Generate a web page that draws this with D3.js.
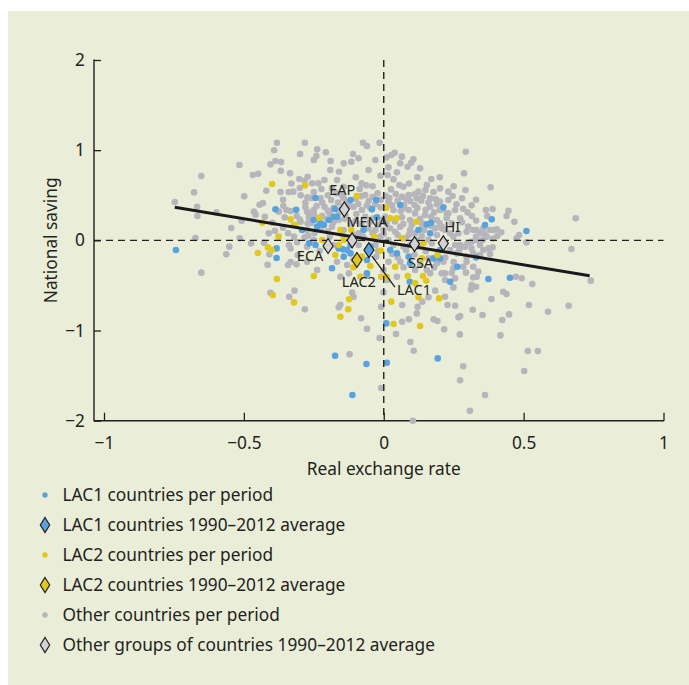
<!DOCTYPE html>
<html>
<head>
<meta charset="utf-8">
<script src="https://cdn.jsdelivr.net/npm/d3@7"></script>
<style>
  body { margin: 0; background: #ffffff; }
  svg { display: block; }
  text { font-family: "Noto Sans", "Open Sans", sans-serif; fill: #231f20; }
</style>
</head>
<body>
<svg id="chart" width="689" height="685"></svg>
<script>
// Axis ticks and titles
const xTickValues = [-1, -0.5, 0, 0.5, 1];
const yTickValues = [-2, -1, 0, 1, 2];
const xTitle = "Real exchange rate";
const yTitle = "National saving";

// LAC1 countries, one point per country and period [real exchange rate, national saving]
const lac1Points = [
  [-0.387,0.344],[-0.313,0.340],[-0.292,0.115],[-0.267,-0.033],[-0.743,-0.107],[-0.383,-0.089],[-0.383,-0.196],
  [-0.119,0.447],[-0.027,0.447],[-0.244,0.469],[-0.175,0.347],[-0.167,0.262],[-0.214,0.170],[-0.238,0.152],
  [-0.042,0.344],[-0.024,0.255],[0.059,0.392],[0.154,0.177],[0.169,0.196],[0.166,0.078],[0.213,0.366],
  [-0.072,0.115],[-0.244,-0.052],[-0.205,-0.070],[-0.146,-0.100],[-0.131,-0.107],[-0.119,-0.144],[-0.143,-0.181],
  [-0.185,-0.310],[-0.060,-0.218],[0.023,-0.107],[0.047,-0.144],[0.089,-0.181],[0.094,-0.255],[0.178,-0.200],
  [0.201,-0.107],[-0.196,0.225],[-0.226,0.188],[-0.179,0.262],[-0.250,0.225],[-0.161,-0.089],[-0.119,-0.052],
  [-0.048,-0.070],[0.124,0.115],
  [0.386,0.233],[0.362,0.170],[0.510,0.103],[0.201,-0.200],[0.330,-0.189],[0.263,-0.292],[0.374,-0.429],[0.451,-0.414],
  [0.237,-0.459],
  [0.009,-0.921],[-0.174,-1.279],[-0.062,-1.371],[0.011,-1.357],[-0.112,-1.715],[0.193,-1.309],[-0.060,-0.366],[0.093,-0.459]
];

// LAC2 countries, one point per country and period
const lac2Points = [
  [-0.399,0.625],[-0.281,0.610],[-0.333,0.233],[-0.434,0.196],[-0.316,0.170],[-0.376,0.041],[-0.414,-0.078],
  [-0.401,-0.107],[-0.450,-0.140],[-0.382,-0.429],[-0.397,-0.606],[-0.321,-0.688],
  [-0.096,0.491],[-0.231,0.251],[-0.155,0.115],[-0.116,0.115],[0.009,0.362],[0.023,0.244],[0.046,0.244],
  [0.116,0.207],[0.142,-0.033],[0.065,0.022],[-0.034,0.041],[-0.143,0.004],[-0.161,-0.052],[-0.173,-0.163],
  [-0.108,-0.299],[-0.078,-0.181],[-0.048,-0.285],[-0.010,-0.115],[0.136,-0.200],[0.192,-0.163],[0.140,-0.395],
  [0.086,-0.395],[0.041,-0.292],[0.011,-0.403],[-0.009,-0.403],[-0.250,-0.395],[-0.084,-0.403],[-0.220,0.004],
  [-0.124,-0.654],[-0.127,-0.765],[-0.155,-0.847],[0.027,-0.680],[0.035,-0.928],[0.130,-0.950],[0.124,-0.632],
  [0.198,-0.644],[0.152,-0.448],[0.112,-0.477]
];

// All other countries, one point per country and period
const otherPoints = [
  [-0.382,1.083],[-0.282,1.083],[-0.392,1.000],[-0.299,0.957],[-0.516,0.835],[-0.405,0.843],[-0.387,0.880],
  [-0.367,0.868],[-0.652,0.713],[-0.468,0.724],[-0.449,0.739],[-0.368,0.772],[-0.335,0.743],[-0.302,0.680],
  [-0.283,0.661],[-0.678,0.532],[-0.369,0.536],[-0.340,0.536],[-0.323,0.540],[-0.297,0.499],[-0.273,0.477],
  [-0.499,0.488],[-0.747,0.425],[-0.444,0.395],[-0.432,0.414],[-0.359,0.384],[-0.333,0.325],[-0.280,0.366],
  [-0.274,0.318],[-0.667,0.373],[-0.598,0.310],[-0.464,0.318],[-0.458,0.285],[-0.375,0.318],[-0.348,0.336],
  [-0.666,0.270],[-0.425,0.262],[-0.508,0.218],[-0.354,0.255],[-0.311,0.270],[-0.297,0.207],[-0.398,0.196],
  [-0.545,0.137],[-0.389,0.107],[-0.411,0.078],[-0.342,0.078],[-0.673,0.026],[-0.515,0.022],[-0.474,-0.033],
  [-0.428,-0.026],[-0.321,0.041],[-0.283,0.033],[-0.552,-0.070],[-0.339,-0.052],[-0.333,-0.089],[-0.563,-0.155],
  [-0.409,-0.155],[-0.307,-0.163],[-0.415,-0.270],[-0.342,-0.273],[-0.333,-0.240],[-0.312,-0.266],[-0.652,-0.358],
  [-0.405,-0.581],[-0.338,-0.625],[-0.319,-0.558],[-0.282,-0.765],
  [-0.238,1.009],[-0.241,0.935],[-0.250,0.891],[-0.207,0.976],[-0.074,1.083],[-0.060,1.046],[-0.015,1.083],
  [-0.110,0.957],[-0.116,0.872],[0.039,0.972],[0.027,0.946],[0.106,0.898],[0.098,0.861],[0.085,0.817],
  [0.017,0.809],[0.047,0.754],[-0.272,0.706],[-0.212,0.669],[-0.234,0.632],[-0.223,0.569],[-0.250,0.536],
  [-0.079,0.632],[-0.062,0.610],[-0.012,0.717],[0.014,0.724],[0.035,0.676],[0.056,0.613],[0.070,0.595],
  [0.026,0.565],[0.043,0.514],[0.007,0.495],[0.154,0.613],[0.149,0.558],[0.124,0.540],[0.178,0.536],
  [0.201,0.576],[0.166,0.466],[0.134,0.440],[0.186,0.455],[0.094,0.436],[0.110,0.392],[0.073,0.392],
  [-0.086,0.569],[-0.091,0.403],[-0.054,0.436],[-0.066,0.503],[-0.022,0.521],[-0.169,0.521],[-0.188,0.447],
  [-0.163,0.418],[-0.280,0.418],[-0.250,0.336],[-0.212,0.373],[-0.179,0.362],[-0.220,0.270],[-0.193,0.299],
  [-0.203,0.233],[-0.268,0.255],[-0.272,0.188],[-0.248,0.078],[-0.119,0.188],[-0.098,0.292],[-0.048,0.355],
  [-0.012,0.366],[-0.078,0.336],[0.035,0.336],[0.061,0.325],[0.089,0.336],[0.112,0.299],[0.136,0.188],
  [0.144,0.115],[0.184,0.133],[0.225,0.299],[0.207,0.133],[0.136,0.048],[0.078,0.022],[0.017,0.004],
  [-0.012,0.041],[-0.074,0.041],[-0.055,0.133],[-0.090,0.078],[-0.180,-0.055],[-0.193,0.041],[-0.250,0.004],
  [-0.229,-0.115],[-0.274,-0.070],[-0.167,-0.237],[-0.027,-0.181],[0.071,-0.070],[0.160,-0.200],[0.190,-0.255],
  [0.154,-0.329],[-0.274,-0.237],[-0.238,-0.329],[-0.060,-0.388],[-0.131,-0.273],[-0.125,-0.366],[0.071,-0.299],
  [0.166,-0.366],[-0.001,-0.329],
  [-0.262,0.299],[-0.155,0.336],[-0.137,0.281],[-0.226,0.466],[-0.143,0.466],[-0.108,0.373],[0.005,0.262],
  [0.059,0.152],[0.094,0.115],[0.112,0.078],[-0.001,0.115],[-0.030,0.115],[0.041,0.096],[0.023,0.133],
  [0.118,0.004],[0.172,-0.033],[0.094,-0.052],[0.035,-0.052],[-0.030,-0.052],[-0.090,-0.052],[-0.108,-0.218],
  [0.017,-0.237],[0.059,-0.237],[0.112,-0.329],[0.219,0.115],[0.190,0.225],[0.148,0.281],[0.094,0.225],
  [0.065,0.255],[-0.007,0.225],[-0.036,0.244],[-0.066,0.262],[-0.161,0.225],[-0.143,0.115],[-0.274,0.115],
  [-0.185,0.152],[-0.226,0.115],[0.089,0.503],[0.118,0.466],[0.166,0.373],[0.201,0.429],[0.231,0.447],
  [0.231,0.540],[0.065,0.484],[0.017,0.429],[-0.143,0.595],[-0.185,0.576],[-0.167,0.669],[-0.256,0.632],
  [-0.191,0.780],[-0.143,0.854],[-0.054,0.780],[-0.030,0.891],[0.059,0.854],[0.065,0.928],
  [0.293,0.983],[0.287,0.743],[0.382,0.588],[0.292,0.558],[0.246,0.491],[0.280,0.466],[0.314,0.388],
  [0.255,0.336],[0.284,0.351],[0.365,0.336],[0.389,0.347],[0.446,0.329],[0.439,0.270],[0.467,0.207],
  [0.315,0.270],[0.273,0.244],[0.686,0.244],[0.484,0.059],[0.475,0.022],[0.510,-0.022],[0.671,-0.096],
  [0.225,0.244],[0.207,0.152],[0.237,0.078],[0.249,0.041],[0.267,0.078],[0.296,0.096],[0.320,0.115],
  [0.332,0.115],[0.344,0.078],[0.380,0.115],[0.392,0.115],[0.404,0.122],[0.406,0.048],[0.368,0.041],
  [0.353,0.004],[0.332,0.004],[0.314,-0.015],[0.273,-0.052],[0.255,-0.052],[0.237,-0.107],[0.290,-0.070],
  [0.314,-0.089],[0.344,-0.052],[0.374,-0.089],[0.389,-0.078],[0.356,-0.107],[0.344,-0.163],[0.380,-0.152],
  [0.296,-0.181],[0.261,-0.144],[0.320,-0.144],[0.213,-0.237],[0.296,-0.237],[0.284,-0.292],[0.294,-0.358],
  [0.320,-0.292],[0.332,-0.403],[0.338,-0.347],[0.249,-0.310],[0.219,-0.366],[0.472,-0.403],[0.493,-0.421],
  [0.207,-0.366],[0.231,0.299],[0.201,0.336],[0.243,0.188],[0.302,0.152],[0.356,0.133],
  [0.243,-0.359],[0.320,-0.411],[0.219,-0.440],[0.255,-0.422],[0.531,-0.485],[0.740,-0.447],[0.314,-0.496],
  [0.330,-0.514],[0.312,-0.544],[0.249,-0.522],[0.219,-0.625],[0.228,-0.717],[0.255,-0.725],[0.385,-0.651],
  [0.427,-0.570],[0.439,-0.595],[0.519,-0.717],[0.661,-0.725],[0.587,-0.791],[0.318,-0.769],[0.353,-0.828],
  [0.267,-0.854],[0.273,-0.839],[0.448,-0.821],[0.424,-0.884],[0.216,-0.987],[0.272,-1.043],[0.417,-1.054],
  [0.515,-1.227],[0.551,-1.227],[0.284,-1.397],[0.502,-1.449],[0.273,-1.552],[0.362,-1.715],[0.308,-1.889],
  [-0.155,-0.403],[-0.113,-0.580],[-0.108,-0.625],[-0.161,-0.743],[-0.155,-0.714],[-0.081,-0.865],[-0.060,-0.980],
  [-0.009,-0.736],[-0.001,-0.577],[-0.015,-1.083],[-0.122,-1.264],[-0.009,-1.637],[0.104,-2.000],[0.066,-0.717],
  [0.066,-0.902],[0.090,-0.876],[0.044,-1.039],[0.095,-1.128],[0.107,-1.224],[0.118,-0.810],[0.121,-0.736],
  [0.138,-0.680],[0.160,-0.632],[0.184,-0.558],[0.178,-0.876],[0.192,-0.895],[0.047,-0.403],[0.014,-0.440],
  [-0.26,0.47],[-0.22,0.42],[-0.20,0.50],[-0.15,0.50],[-0.13,0.42],[-0.10,0.46],[-0.08,0.49],[-0.04,0.48],
  [-0.01,0.45],[0.02,0.47],[0.05,0.44],[0.08,0.46],[0.11,0.51],[0.14,0.49],[0.16,0.42],[0.19,0.40],
  [0.21,0.35],[0.18,0.31],[0.15,0.34],[0.12,0.36],[0.07,0.36],[0.03,0.39],[-0.03,0.40],[-0.06,0.39],
  [-0.12,0.38],[-0.16,0.31],[-0.20,0.33],[-0.24,0.38],[-0.25,0.29],[-0.23,0.23],[-0.18,0.20],[-0.14,0.24],
  [-0.10,0.22],[-0.08,0.18],[-0.05,0.20],[-0.02,0.17],[0.01,0.19],[0.04,0.21],[0.07,0.18],[0.10,0.17],
  [0.13,0.24],[0.17,0.26],[0.20,0.19],[0.17,0.16],[0.14,0.14],[0.09,0.06],[0.05,0.06],[0.00,0.07],
  [-0.04,0.08],[-0.07,0.02],[-0.11,0.06],[-0.15,0.07],[-0.20,0.10],[-0.23,0.16],[-0.26,0.19],[-0.27,0.05],
  [0.19,0.06],[0.16,0.01],[0.12,-0.07],[0.08,-0.11],[0.03,-0.15],[-0.02,-0.12],[0.15,-0.12],[0.19,-0.18],
  [0.11,-0.16],[0.05,-0.19],[0.13,-0.26],[0.18,-0.30],[0.22,-0.19],[0.25,-0.24],[0.27,-0.11],[0.30,-0.03],
  [0.33,0.04],[0.36,0.07],[0.39,0.02],[0.42,0.09],[0.28,0.20],[0.33,0.22],[0.37,0.27],[0.30,0.31],
  [0.26,0.40],[0.33,0.45],[0.25,0.60],[0.20,0.70],[0.12,0.70],[0.09,0.63],[-0.04,0.60],[-0.10,0.70],
  [-0.16,0.76],[-0.19,0.88],[-0.09,0.91],[0.01,0.92],[0.13,0.80],[0.17,0.68],[-0.30,0.58],[-0.33,0.63],
  [-0.42,0.55],[-0.36,0.45],[-0.30,0.23],[-0.32,0.17],[-0.36,0.14],[-0.31,-0.02]
];

// 1990-2012 group averages
const groupNames = ["EAP", "MENA", "ECA", "LAC2", "LAC1", "SSA", "HI"];
const groupX     = [-0.141, -0.113, -0.199, -0.096, -0.053, 0.110, 0.213];
const groupY     = [0.344, 0.000, -0.063, -0.218, -0.108, -0.041, -0.033];
const groupKind  = ["other", "other", "other", "lac2", "lac1", "other", "other"];

// Fitted line end points
const fitX = [-0.747, 0.736];
const fitY = [0.366, -0.392];

const legendLabels = [
  "LAC1 countries per period",
  "LAC1 countries 1990\u20132012 average",
  "LAC2 countries per period",
  "LAC2 countries 1990\u20132012 average",
  "Other countries per period",
  "Other groups of countries 1990\u20132012 average"
];
const legendKinds = ["lac1", "lac1", "lac2", "lac2", "other", "other"];
const legendShapes = ["dot", "diamond", "dot", "diamond", "dot", "diamond"];

// ---- styling ----
const dotColor = { lac1: "#5aa2dd", lac2: "#e1c81f", other: "#b5b5bb" };
const diamondFill = { lac1: "#5aa2dd", lac2: "#e1c81f", other: "#d3d3d7" };
const ink = "#231f20";
const panelColor = "#eaeed9";
const fontSize = 17.3;

const svg = d3.select("#chart");

// panel background
svg.append("rect").attr("x", 8).attr("y", 11).attr("width", 681).attr("height", 674)
  .attr("fill", panelColor);

const x = d3.scaleLinear().domain([-1, 1]).range([104, 663.5]);
const y = d3.scaleLinear().domain([-2, 2]).range([420.7, 60]);
const axisLeftX = 94;
const fmt = d => d3.format("")(d).replace("-", "\u2212");

// axes: ticks point inward, labels outside
const gx = svg.append("g").attr("transform", `translate(0,${y(-2)})`)
  .call(d3.axisBottom(x).tickValues(xTickValues).tickFormat(fmt).tickSize(-8).tickPadding(16));
gx.select(".domain").remove();
gx.selectAll(".tick line").attr("stroke", ink).attr("stroke-width", 1.3);
gx.selectAll(".tick text").attr("font-size", fontSize).attr("fill", ink)
  .attr("font-family", "'Noto Sans', 'Open Sans', sans-serif");

const gy = svg.append("g").attr("transform", `translate(${axisLeftX},0)`)
  .call(d3.axisLeft(y).tickValues(yTickValues).tickFormat(fmt).tickSize(-7).tickPadding(9));
gy.select(".domain").remove();
gy.selectAll(".tick line").attr("stroke", ink).attr("stroke-width", 1.3);
gy.selectAll(".tick text").attr("font-size", fontSize).attr("fill", ink)
  .attr("font-family", "'Noto Sans', 'Open Sans', sans-serif");

// axis lines
svg.append("line").attr("x1", axisLeftX).attr("x2", axisLeftX)
  .attr("y1", y(2) - 0.6).attr("y2", y(-2) + 0.6)
  .attr("stroke", ink).attr("stroke-width", 1.4);
svg.append("line").attr("x1", axisLeftX).attr("x2", x(1) + 0.6)
  .attr("y1", y(-2)).attr("y2", y(-2))
  .attr("stroke", ink).attr("stroke-width", 1.4);

// axis titles
svg.append("text").attr("x", x(0)).attr("y", 475).attr("text-anchor", "middle")
  .attr("font-size", fontSize).text(xTitle);
svg.append("text").attr("transform", `translate(57,${y(0)}) rotate(-90)`)
  .attr("text-anchor", "middle").attr("font-size", fontSize).text(yTitle);

// scatter points
const dots = svg.append("g");
function drawDots(points, kind) {
  dots.selectAll(null).data(points).enter().append("circle")
    .attr("cx", d => x(d[0])).attr("cy", d => y(d[1])).attr("r", 3.3)
    .attr("fill", dotColor[kind]);
}
drawDots(otherPoints, "other");
drawDots(lac1Points, "lac1");
drawDots(lac2Points, "lac2");

// zero reference lines
svg.append("line").attr("x1", axisLeftX).attr("x2", x(1))
  .attr("y1", y(0)).attr("y2", y(0))
  .attr("stroke", ink).attr("stroke-width", 1.4).attr("stroke-dasharray", "7,5");
svg.append("line").attr("x1", x(0)).attr("x2", x(0))
  .attr("y1", y(2)).attr("y2", y(-2))
  .attr("stroke", ink).attr("stroke-width", 1.4).attr("stroke-dasharray", "7,5");

// fitted line
svg.append("line")
  .attr("x1", x(fitX[0])).attr("y1", y(fitY[0]))
  .attr("x2", x(fitX[1])).attr("y2", y(fitY[1]))
  .attr("stroke", "#1a1a1a").attr("stroke-width", 3);

// group averages as diamonds
const diamondPath = (hw, hh) => `M0,${-hh}L${hw},0L0,${hh}L${-hw},0Z`;
const groups = groupNames.map((n, i) => ({ name: n, x: groupX[i], y: groupY[i], kind: groupKind[i] }));

// label placement relative to each diamond
const labelOffset = {
  EAP: [-2, -14], MENA: [15, -13.5], ECA: [-18, 15], LAC2: [2, 26.5],
  LAC1: [45, 45], SSA: [6, 24], HI: [9, -11.5]
};

// leader line for LAC1
const lac1 = groups.find(g => g.name === "LAC1");
svg.append("line")
  .attr("x1", x(lac1.x) + 3).attr("y1", y(lac1.y) + 6)
  .attr("x2", x(lac1.x) + 26).attr("y2", y(lac1.y) + 37)
  .attr("stroke", ink).attr("stroke-width", 1.3);

svg.append("g").selectAll("path").data(groups).enter().append("path")
  .attr("transform", d => `translate(${x(d.x)},${y(d.y)})`)
  .attr("d", diamondPath(5, 7.5))
  .attr("fill", d => diamondFill[d.kind]).attr("stroke", ink).attr("stroke-width", 1.2);

svg.append("g").selectAll("text").data(groups).enter().append("text")
  .attr("x", d => x(d.x) + labelOffset[d.name][0])
  .attr("y", d => y(d.y) + labelOffset[d.name][1])
  .attr("text-anchor", "middle").attr("font-size", 14.5).attr("fill", ink)
  .text(d => d.name);

// legend
const legend = svg.append("g");
legendLabels.forEach((label, i) => {
  const cy = 495 + i * 30;
  if (legendShapes[i] === "dot") {
    legend.append("circle").attr("cx", 45).attr("cy", cy).attr("r", 2.7)
      .attr("fill", dotColor[legendKinds[i]]);
  } else {
    legend.append("path").attr("transform", `translate(45,${cy})`)
      .attr("d", diamondPath(4.7, 7.5))
      .attr("fill", diamondFill[legendKinds[i]]).attr("stroke", ink).attr("stroke-width", 1.2);
  }
  legend.append("text").attr("x", 62.5).attr("y", cy + 5.8).attr("font-size", fontSize).text(label);
});
</script>
</body>
</html>
